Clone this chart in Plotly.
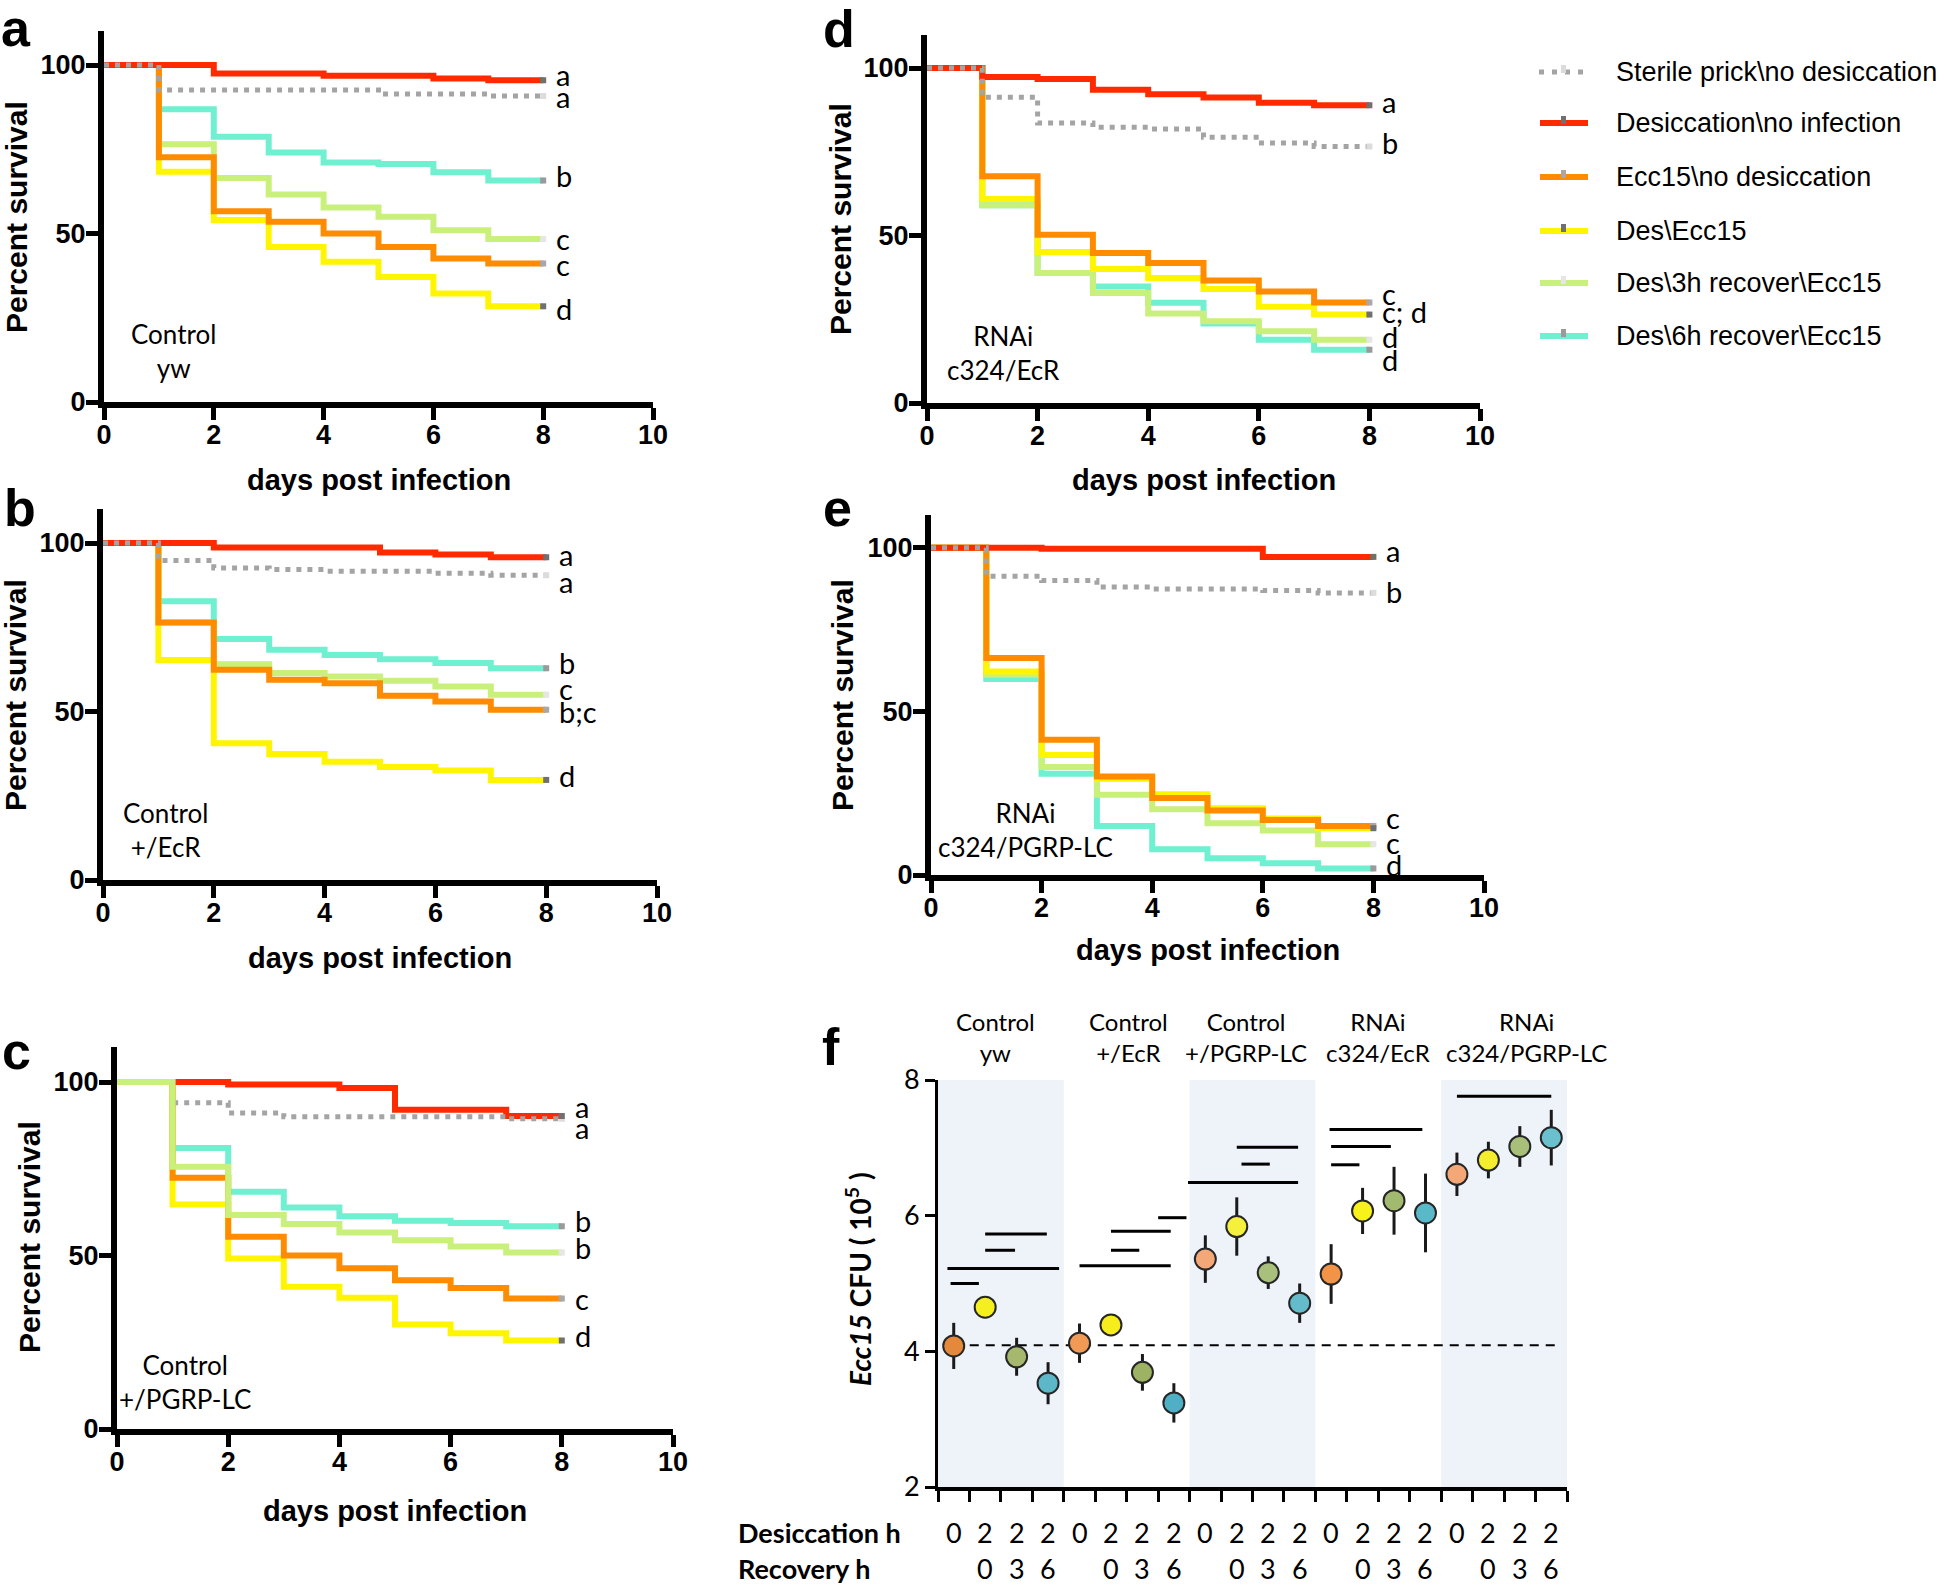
import plotly.graph_objects as go

W, H = 1946, 1586

# ---------------- data ----------------
DAYS = [0, 1, 2, 3, 4, 5, 6, 7, 8]
SERIES = ["Sterile prick\\no desiccation", "Desiccation\\no infection", "Ecc15\\no desiccation",
          "Des\\Ecc15", "Des\\3h recover\\Ecc15", "Des\\6h recover\\Ecc15"]
KEYS = ["gray", "red", "orange", "yellow", "green", "teal"]

# survival levels for intervals [0,1), [1,2), ... [7,8)
a_gray = [100, 92.6, 92.6, 92.6, 92.6, 91.4, 91.4, 90.8]
a_red = [100, 100, 97.5, 97.5, 96.8, 96.8, 96.0, 95.5]
a_orange = [100, 72.6, 56.6, 53.5, 50.0, 46.0, 42.6, 41.1]
a_yellow = [100, 68.3, 54.0, 46.0, 41.6, 37.1, 32.2, 28.4]
a_green = [100, 76.5, 66.5, 61.6, 57.7, 55.0, 51.0, 48.4]
a_teal = [100, 86.9, 78.7, 74.0, 71.1, 70.6, 68.2, 65.7]

b_gray = [100, 94.8, 92.6, 92.1, 91.6, 91.6, 91.0, 90.4]
b_red = [100, 100, 98.7, 98.7, 98.7, 97.2, 96.6, 95.8]
b_orange = [100, 76.4, 62.4, 59.4, 58.4, 54.7, 53.0, 50.5]
b_yellow = [100, 65.3, 40.6, 37.4, 35.1, 33.5, 32.5, 29.7]
b_green = [100, 76.4, 64.0, 61.4, 60.4, 59.1, 57.4, 55.0]
b_teal = [100, 82.7, 71.5, 68.3, 66.8, 65.5, 64.4, 62.8]

c_gray = [100, 94.0, 91.1, 90.0, 90.0, 90.0, 90.0, 89.4]
c_red = [100, 100, 99.3, 99.3, 98.3, 92.0, 92.0, 90.2]
c_orange = [100, 72.4, 55.4, 50.0, 46.3, 42.9, 40.6, 37.6]
c_yellow = [100, 64.7, 49.1, 41.0, 37.8, 30.1, 27.6, 25.5]
c_green = [100, 75.6, 61.7, 59.1, 56.6, 54.4, 52.6, 50.9]
c_teal = [100, 81.0, 68.4, 63.8, 61.3, 60.0, 59.4, 58.4]

d_gray = [100, 91.3, 83.6, 82.3, 81.8, 79.3, 77.6, 76.6]
d_red = [100, 97.3, 96.7, 93.5, 92.2, 91.2, 89.6, 88.9]
d_orange = [100, 67.7, 50.2, 44.8, 41.8, 36.6, 33.3, 30.0]
d_yellow = [100, 60.9, 45.1, 40.0, 37.3, 34.0, 28.7, 26.4]
d_green = [100, 59.0, 38.8, 32.8, 26.7, 24.4, 21.4, 18.9]
d_teal = [100, 59.0, 38.8, 34.8, 29.9, 23.7, 18.9, 15.9]

e_gray = [100, 91.3, 90.0, 88.0, 87.4, 87.4, 86.9, 86.2]
e_red = [100, 100, 99.7, 99.7, 99.7, 99.7, 97.2, 97.2]
e_orange = [100, 66.3, 41.3, 30.1, 23.5, 19.7, 16.8, 15.0]
e_yellow = [100, 62.2, 36.7, 29.4, 24.7, 20.4, 17.3, 14.3]
e_green = [100, 61.2, 33.0, 24.5, 20.1, 15.8, 13.6, 9.4]
e_teal = [100, 59.9, 30.9, 15.0, 7.9, 5.1, 3.6, 2.0]

# significance letters (text, y value) per panel
a_letters = ["a", "a", "b", "c", "c", "d"]
a_letter_y = [97.3, 90.6, 67.3, 48.5, 40.8, 27.7]
b_letters = ["a", "a", "b", "c", "b;c", "d"]
b_letter_y = [96.5, 88.6, 64.6, 56.9, 50.0, 30.9]
c_letters = ["a", "a", "b", "b", "c", "d"]
c_letter_y = [92.8, 86.8, 60.0, 52.3, 37.6, 27.0]
d_letters = ["a", "b", "c", "c; d", "d", "d"]
d_letter_y = [90.0, 77.8, 32.8, 27.4, 19.9, 12.9]
e_letters = ["a", "b", "c", "c", "d"]
e_letter_y = [99.0, 86.7, 17.7, 9.9, 3.1]

panel_genotypes = ["Control<br>yw", "Control<br>+/EcR", "Control<br>+/PGRP-LC",
                   "RNAi<br>c324/EcR", "RNAi<br>c324/PGRP-LC"]

# panel f
f_slots = list(range(20))
f_values = [4.08, 4.65, 3.92, 3.53, 4.12, 4.39, 3.69, 3.24, 5.36, 5.84, 5.16, 4.71,
            5.14, 6.07, 6.22, 6.04, 6.61, 6.82, 7.02, 7.15]
f_err = [0.34, 0.16, 0.28, 0.31, 0.29, 0.10, 0.27, 0.29, 0.35, 0.43, 0.24, 0.29,
         0.44, 0.34, 0.50, 0.58, 0.32, 0.27, 0.30, 0.41]
f_desiccation = ["0", "2", "2", "2"] * 5
f_recovery = ["", "0", "3", "6"] * 5
f_groups = ["Control<br>yw", "Control<br>+/EcR", "Control<br>+/PGRP-LC",
            "RNAi<br>c324/EcR", "RNAi<br>c324/PGRP-LC"]
f_group_x = [1.34, 5.57, 9.3, 13.5, 18.2]
f_baseline = 4.09
sig_y = [5.00, 5.22, 5.49, 5.73, 5.26, 5.49, 5.77, 5.97, 6.49, 6.76, 7.01, 6.75, 7.02, 7.27, 7.76]
sig_x0 = [-0.1, -0.2, 1.0, 1.0, 4.0, 5.0, 5.0, 6.5, 7.45, 9.15, 9.0, 12.0, 12.0, 11.95, 16.0]
sig_x1 = [0.8, 3.35, 1.95, 2.96, 6.9, 5.9, 6.9, 7.4, 10.95, 10.05, 10.95, 12.9, 13.9, 14.9, 19.0]

# ---------------- styles ----------------
COL = {"gray": "#a4a4a4", "red": "#ff2a00", "orange": "#ff8c00", "yellow": "#fff500",
       "green": "#c9f07a", "teal": "#6ff0d0"}
END_COL = {"gray": "#dcdcdc", "red": "#707070", "orange": "#a8a8a8", "yellow": "#707070",
           "green": "#e6e6e6", "teal": "#9a9a9a"}
f_colors = ["#e4893c", "#f6ef1e", "#a5b86e", "#5cb8c9",
            "#f19a55", "#f7ec1c", "#9db363", "#4fb0c5",
            "#f4a878", "#f4f03c", "#a9bf7c", "#64bccb",
            "#f19448", "#f8f21a", "#a2ba70", "#5ab9c8",
            "#f4a878", "#f4ee2e", "#a8bf7a", "#6bc0cd"]

SANS = "Liberation Sans"
CAL = "Lato"


def xd(p0, p1):
    return [p0 / W, p1 / W]


def yd(top, bot):
    return [1 - bot / H, 1 - top / H]


def px(x):
    return x / W


def py(y):
    return 1 - y / H


fig = go.Figure()
annotations = []
shapes = []


def ann(text, x, y, size, family=SANS, xanchor="center", yanchor="middle",
        xref="paper", yref="paper", angle=0, color="black", weight="normal"):
    annotations.append(dict(text=text, x=x, y=y, xref=xref, yref=yref, showarrow=False,
                            xanchor=xanchor, yanchor=yanchor, textangle=angle,
                            font=dict(family=family, size=size, color=color, weight=weight)))


panels = [
    dict(letter="a", data=dict(gray=a_gray, red=a_red, orange=a_orange, yellow=a_yellow, green=a_green, teal=a_teal),
         letters=a_letters, letter_y=a_letter_y, xpx=(104, 653), ypx=(31.3, 402),
         order=["teal", "green", "yellow", "orange", "red", "gray"],
         inset=(1.26, 15.1), lab=(16, 28), ytitle=(17, 217), xtitle=(379, 480)),
    dict(letter="b", data=dict(gray=b_gray, red=b_red, orange=b_orange, yellow=b_yellow, green=b_green, teal=b_teal),
         letters=b_letters, letter_y=b_letter_y, xpx=(103, 657), ypx=(509.3, 880),
         order=["teal", "green", "yellow", "orange", "red", "gray"],
         inset=(1.12, 14.8), lab=(20, 508), ytitle=(15, 695), xtitle=(380, 958)),
    dict(letter="c", data=dict(gray=c_gray, red=c_red, orange=c_orange, yellow=c_yellow, green=c_green, teal=c_teal),
         letters=c_letters, letter_y=c_letter_y, xpx=(117, 673), ypx=(1047.3, 1429),
         order=["teal", "yellow", "orange", "red", "gray", "green"],
         inset=(1.22, 13.5), lab=(16, 1051), ytitle=(29, 1237), xtitle=(395, 1511)),
    dict(letter="d", data=dict(gray=d_gray, red=d_red, orange=d_orange, yellow=d_yellow, green=d_green, teal=d_teal),
         letters=d_letters, letter_y=d_letter_y, xpx=(927, 1480), ypx=(34.5, 403),
         order=["teal", "green", "yellow", "orange", "red", "gray"],
         inset=(1.39, 14.8), lab=(839, 29), ytitle=(840, 219), xtitle=(1204, 480)),
    dict(letter="e", data=dict(gray=e_gray, red=e_red, orange=e_orange, yellow=e_yellow, green=e_green, teal=e_teal),
         letters=e_letters, letter_y=e_letter_y, xpx=(931, 1484), ypx=(515, 875),
         order=["teal", "green", "yellow", "orange", "red", "gray"],
         inset=(1.7, 13.9), lab=(837, 508), ytitle=(842, 695), xtitle=(1208, 950)),
]

axis_common = dict(showline=True, linewidth=6, linecolor="black", ticks="outside", ticklen=12,
                   tickwidth=5, tickcolor="black", showgrid=False, zeroline=False, automargin=False,
                   tickfont=dict(family=SANS, size=27, color="black", weight="bold"))

for i, p in enumerate(panels, start=1):
    sfx = "" if i == 1 else str(i)
    xa, ya = "x" + sfx, "y" + sfx
    for key in p["order"]:
        lv = p["data"][key]
        fig.add_trace(go.Scatter(
            x=DAYS, y=lv + [lv[-1]], mode="lines", showlegend=False, hoverinfo="skip",
            line=dict(color=COL[key], width=5 if key == "gray" else 6, shape="hv",
                      dash="5px,6px" if key == "gray" else "solid"),
            xaxis=xa, yaxis=ya))
    # censor marks at end of curves
    fig.add_trace(go.Scatter(
        x=[DAYS[-1]] * len(KEYS), y=[p["data"][k][-1] for k in KEYS], mode="markers",
        showlegend=False, hoverinfo="skip",
        marker=dict(symbol="square", size=6, color=[END_COL[k] for k in KEYS]),
        xaxis=xa, yaxis=ya))
    fig.layout["xaxis" + sfx] = dict(domain=xd(*p["xpx"]), range=[0, 10], anchor=ya,
                                    tickvals=[0, 2, 4, 6, 8, 10], ticklabelstandoff=-8,
                                    **axis_common)
    fig.layout["yaxis" + sfx] = dict(domain=yd(*p["ypx"]), range=[0, 110], anchor=xa,
                                    tickvals=[0, 50, 100], ticklabelstandoff=-5,
                                    **axis_common)
    for t, yv in zip(p["letters"], p["letter_y"]):
        ann(t, 8.2, yv, 29, family=CAL, xanchor="left", xref=xa, yref=ya)
    ann(panel_genotypes[i - 1], p["inset"][0], p["inset"][1], 26, family=CAL, xref=xa, yref=ya)
    ann(p["letter"], px(p["lab"][0]), py(p["lab"][1]), 52, weight="bold")
    ann("Percent survival", px(p["ytitle"][0]), py(p["ytitle"][1]), 30, angle=-90, weight="bold")
    ann("days post infection", px(p["xtitle"][0]), py(p["xtitle"][1]), 29, weight="bold")

# ---------------- panel f ----------------
band_groups = [0, 2, 4]
for g in band_groups:
    shapes.append(dict(type="rect", xref="x6", yref="y6", x0=g * 4 - 0.5, x1=g * 4 + 3.5,
                       y0=2, y1=8, fillcolor="#eef3fa", line=dict(width=0), layer="below"))
shapes.append(dict(type="line", xref="x6", yref="y6", x0=0, x1=19.3, y0=f_baseline, y1=f_baseline,
                   line=dict(color="black", width=2, dash="9px,7px"), layer="below"))

sx, sy = [], []
for y0, a0, a1 in zip(sig_y, sig_x0, sig_x1):
    sx += [a0, a1, None]
    sy += [y0, y0, None]
fig.add_trace(go.Scatter(x=sx, y=sy, mode="lines", line=dict(color="black", width=3),
                         showlegend=False, hoverinfo="skip", xaxis="x6", yaxis="y6"))
fig.add_trace(go.Scatter(
    x=f_slots, y=f_values, mode="markers", showlegend=False, hoverinfo="skip",
    error_y=dict(type="data", array=f_err, color="#1a1a1a", thickness=3, width=0),
    marker=dict(size=21, color=f_colors, line=dict(color="#262626", width=2)),
    xaxis="x6", yaxis="y6"))

fig.layout["xaxis6"] = dict(domain=xd(938, 1567), range=[-0.5, 19.5], anchor="y6",
                            tickvals=[k - 0.5 for k in range(21)], ticktext=[""] * 21,
                            showline=True, linewidth=4, linecolor="black", ticks="outside",
                            ticklen=11, tickwidth=3, tickcolor="black", showgrid=False,
                            zeroline=False, automargin=False)
fig.layout["yaxis6"] = dict(domain=yd(1080, 1487), range=[2, 8], anchor="x6",
                            tickvals=[2, 4, 6, 8], showline=True, linewidth=3, linecolor="black",
                            ticks="outside", ticklen=10, tickwidth=3, tickcolor="black",
                            showgrid=False, zeroline=False, automargin=False,
                            tickfont=dict(family=CAL, size=27, color="black"))

for s in f_slots:
    ann(f_desiccation[s], s, py(1532), 27, family=CAL, xref="x6")
    if f_recovery[s]:
        ann(f_recovery[s], s, py(1568), 27, family=CAL, xref="x6")
ann("Desiccation h", px(736), py(1532), 27, family=CAL, xanchor="left", weight="bold")
ann("Recovery h", px(736), py(1568), 27, family=CAL, xanchor="left", weight="bold")
for gx, gt in zip(f_group_x, f_groups):
    ann(gt, gx, py(1037), 24, family=CAL, xref="x6")
ann("<i>Ecc15</i> CFU ( 10<sup>5</sup> )", px(858), py(1279), 28, family=CAL, angle=-90,
    weight="bold")
ann("f", px(831), py(1047), 52, weight="bold")

# ---------------- legend ----------------
leg_y = [72, 123, 177, 231, 283, 336]
for k, (key, name) in enumerate(zip(KEYS, SERIES)):
    y = leg_y[k]
    if key == "gray":
        shapes.append(dict(type="line", xref="paper", yref="paper", x0=px(1539), x1=px(1589),
                           y0=py(y), y1=py(y), line=dict(color=COL[key], width=5, dash="5px,8px")))
    else:
        shapes.append(dict(type="line", xref="paper", yref="paper", x0=px(1540), x1=px(1588),
                           y0=py(y), y1=py(y), line=dict(color=COL[key], width=6)))
    shapes.append(dict(type="rect", xref="paper", yref="paper", x0=px(1561), x1=px(1566),
                       y0=py(y + 1), y1=py(y - 7), fillcolor=END_COL[key], line=dict(width=0)))
    ann(name, px(1614), py(y), 27, family=SANS, xanchor="left")

fig.update_layout(width=W, height=H, margin=dict(l=0, r=0, t=0, b=0, autoexpand=False),
                  paper_bgcolor="white", plot_bgcolor="rgba(0,0,0,0)",
                  annotations=annotations, shapes=shapes, showlegend=False,
                  font=dict(family=SANS, color="black"))
fig.write_html("out.html", config={"displayModeBar": False},
               post_script="document.body.style.margin='0px';document.body.style.overflow='hidden';")
